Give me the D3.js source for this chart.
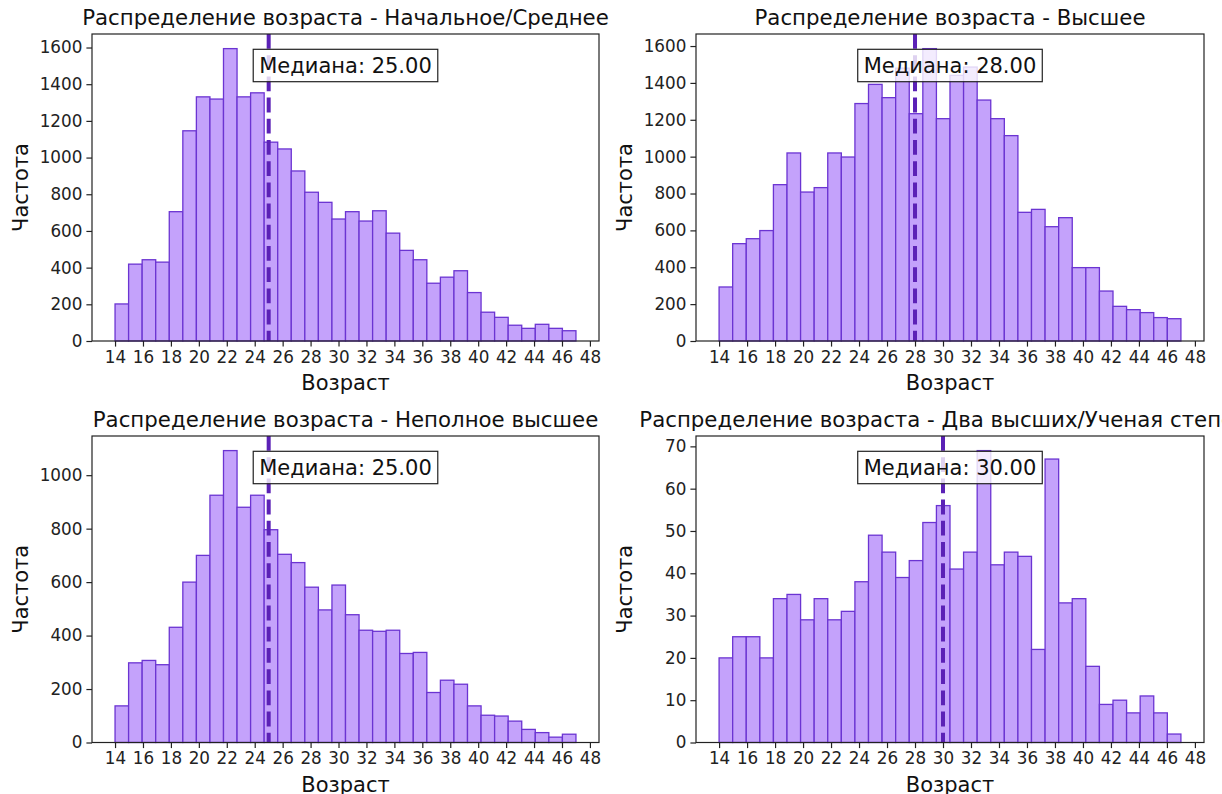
<!DOCTYPE html>
<html>
<head>
<meta charset="utf-8">
<script src="https://cdn.jsdelivr.net/npm/d3@7"></script>
<style>
  html, body { margin: 0; padding: 0; background: #fff; }
  svg { display: block; font-family: "DejaVu Sans", sans-serif; }
</style>
</head>
<body>
<svg id="chart" width="1222" height="794"></svg>
<script>
// ---- data ----
const ageMin = 14;
const ageMax = 47;
const binCount = 34;

const titles = [
  "Распределение возраста - Начальное/Среднее",
  "Распределение возраста - Высшее",
  "Распределение возраста - Неполное высшее",
  "Распределение возраста - Два высших/Ученая степень"
];

const countsPrimary = [202, 419, 443, 430, 705, 1146, 1331, 1319, 1594, 1331, 1353, 1084, 1047, 927, 811, 756, 665, 705, 654, 710, 588, 494, 443, 315, 348, 383, 264, 157, 129, 86, 69, 91, 69, 56];
const countsHigher = [293, 528, 555, 599, 848, 1020, 808, 832, 1020, 998, 1288, 1392, 1320, 1480, 1233, 1586, 1206, 1441, 1486, 1307, 1206, 1114, 698, 714, 620, 669, 398, 398, 271, 188, 170, 154, 127, 121];
const countsIncomplete = [137, 298, 307, 291, 431, 600, 700, 925, 1092, 880, 925, 796, 704, 673, 581, 496, 589, 478, 420, 416, 420, 333, 337, 187, 233, 218, 137, 102, 99, 80, 49, 37, 20, 31];
const countsTwoHigher = [20, 25, 25, 20, 34, 35, 29, 34, 29, 31, 38, 49, 45, 39, 43, 52, 56, 41, 45, 69, 42, 45, 44, 22, 67, 33, 34, 18, 9, 10, 7, 11, 7, 2];

const medians = [25, 28, 25, 30];

const xTicks = [14, 16, 18, 20, 22, 24, 26, 28, 30, 32, 34, 36, 38, 40, 42, 44, 46, 48];
const yTicksPrimary = [0, 200, 400, 600, 800, 1000, 1200, 1400, 1600];
const yTicksHigher = [0, 200, 400, 600, 800, 1000, 1200, 1400, 1600];
const yTicksIncomplete = [0, 200, 400, 600, 800, 1000];
const yTicksTwoHigher = [0, 10, 20, 30, 40, 50, 60, 70];

const xLabel = "Возраст";
const yLabel = "Частота";
const medianPrefix = "Медиана: ";

// ---- layout ----
const panels = [
  { counts: countsPrimary, yTicks: yTicksPrimary, left: 92, right: 599, top: 34, bottom: 341 },
  { counts: countsHigher, yTicks: yTicksHigher, left: 696, right: 1204, top: 34, bottom: 341 },
  { counts: countsIncomplete, yTicks: yTicksIncomplete, left: 92, right: 599, top: 436, bottom: 742.5 },
  { counts: countsTwoHigher, yTicks: yTicksTwoHigher, left: 696, right: 1204, top: 436, bottom: 742.5 }
];

const barFill = "#c4a2fb";
const barEdge = "#6b34d2";
const medianColor = "#5b21b6";

const svg = d3.select("#chart");
const binWidth = (ageMax - ageMin) / binCount;
const xPad = (ageMax - ageMin) * 0.05;

panels.forEach((p, k) => {
  const g = svg.append("g");
  const x = d3.scaleLinear().domain([ageMin - xPad, ageMax + xPad]).range([p.left, p.right]);
  const y = d3.scaleLinear().domain([0, d3.max(p.counts) * 1.05]).range([p.bottom, p.top]);

  const bins = p.counts.map((c, i) => ({ x0: ageMin + i * binWidth, x1: ageMin + (i + 1) * binWidth, c }));

  g.append("g").selectAll("rect").data(bins).join("rect")
    .attr("x", d => x(d.x0))
    .attr("width", d => x(d.x1) - x(d.x0))
    .attr("y", d => y(d.c))
    .attr("height", d => y(0) - y(d.c))
    .attr("fill", barFill)
    .attr("stroke", barEdge)
    .attr("stroke-width", 1.3);

  // median line
  g.append("line")
    .attr("x1", x(medians[k])).attr("x2", x(medians[k]))
    .attr("y1", p.top).attr("y2", p.bottom)
    .attr("stroke", medianColor)
    .attr("stroke-width", 4)
    .attr("stroke-dasharray", "14.8,6.4");

  // axes
  const xAxis = d3.axisBottom(x).tickValues(xTicks).tickSize(5.6).tickPadding(4).tickFormat(d3.format("d"));
  const yAxis = d3.axisLeft(y).tickValues(p.yTicks).tickSize(5.6).tickPadding(4).tickFormat(d3.format("d"));
  const gx = g.append("g").attr("transform", `translate(0,${p.bottom})`).call(xAxis);
  const gy = g.append("g").attr("transform", `translate(${p.left},0)`).call(yAxis);
  [gx, gy].forEach(a => {
    a.select(".domain").remove();
    a.selectAll(".tick line").attr("stroke", "#222").attr("stroke-width", 1.2);
    a.selectAll(".tick text").attr("fill", "#222").style("font-size", "16.8px").style("font-family", "DejaVu Sans");
  });

  // frame
  g.append("rect")
    .attr("x", p.left).attr("y", p.top)
    .attr("width", p.right - p.left).attr("height", p.bottom - p.top)
    .attr("fill", "none").attr("stroke", "#222").attr("stroke-width", 1.2);

  // median label box
  const cx = (p.left + p.right) / 2;
  const boxTop = p.top + 15.3;
  const label = g.append("text")
    .attr("x", cx).attr("y", boxTop + 16.4)
    .attr("text-anchor", "middle")
    .attr("dominant-baseline", "central")
    .style("font-size", "21px")
    .attr("fill", "#111")
    .text(medianPrefix + medians[k].toFixed(2));
  const bb = label.node().getBBox();
  g.insert("rect", function() { return label.node(); })
    .attr("x", bb.x - 6).attr("y", boxTop)
    .attr("width", bb.width + 12).attr("height", 32.4)
    .attr("fill", "#fff").attr("fill-opacity", 0.8)
    .attr("stroke", "#222").attr("stroke-width", 1.2);

  // title
  g.append("text")
    .attr("x", cx).attr("y", p.top - 9)
    .attr("text-anchor", "middle")
    .style("font-size", "21.3px")
    .attr("fill", "#111")
    .text(titles[k]);

  // axis labels
  g.append("text")
    .attr("x", cx).attr("y", p.bottom + 49)
    .attr("text-anchor", "middle")
    .style("font-size", "21px")
    .attr("fill", "#111")
    .text(xLabel);
  g.append("text")
    .attr("transform", `translate(${p.left - 64},${(p.top + p.bottom) / 2}) rotate(-90)`)
    .attr("text-anchor", "middle")
    .style("font-size", "21px")
    .attr("fill", "#111")
    .text(yLabel);
});
</script>
</body>
</html>
